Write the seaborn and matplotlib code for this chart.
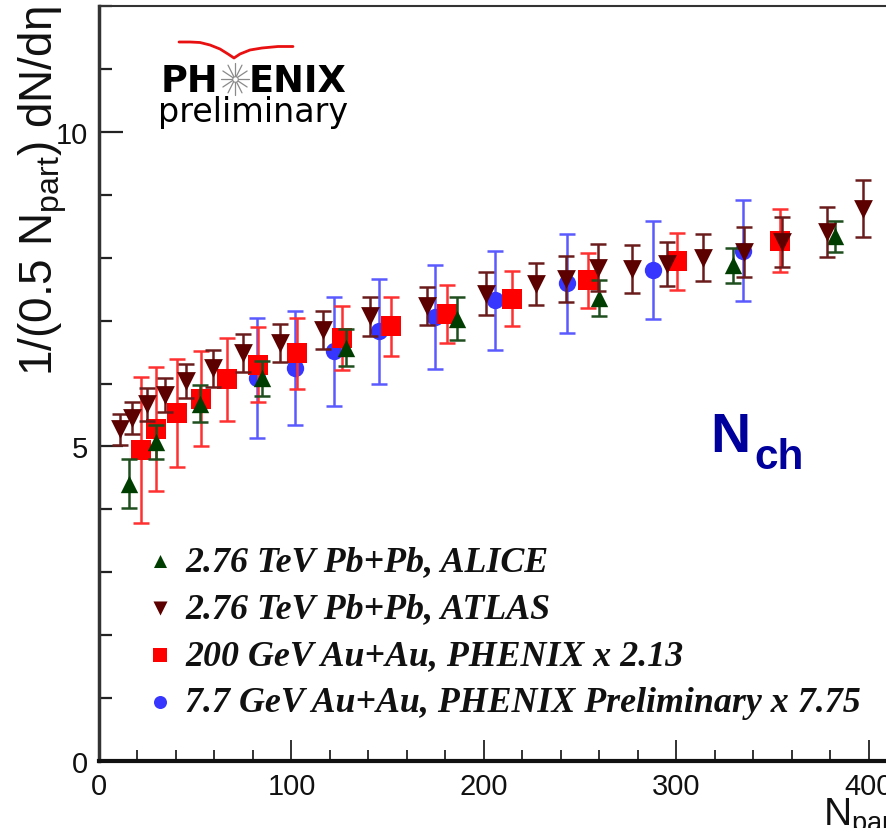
import numpy as np
import pandas as pd
import matplotlib
matplotlib.use("Agg")
import matplotlib.pyplot as plt
import seaborn as sns
from matplotlib import font_manager
from matplotlib.ticker import MultipleLocator, FixedLocator
from matplotlib.lines import Line2D

# ---------------- data ----------------
alice_x = [15.5, 29.6, 52.5, 84.5, 128.5, 186.0, 259.5, 329.5, 382.5]
alice_y = [4.41, 5.07, 5.68, 6.08, 6.57, 7.03, 7.36, 7.88, 8.34]
alice_e = [0.39, 0.27, 0.29, 0.28, 0.29, 0.34, 0.28, 0.28, 0.25]

atlas_x = [10.9, 17.1, 24.9, 34.3, 45.2, 59.2, 74.8, 94.0, 116.4, 140.8, 170.4,
           201.0, 227.0, 242.6, 259.0, 277.0, 295.0, 314.0, 335.0, 355.0, 378.0, 397.0]
atlas_y = [5.27, 5.45, 5.67, 5.82, 6.04, 6.24, 6.48, 6.64, 6.85, 7.07, 7.23,
           7.43, 7.58, 7.66, 7.84, 7.82, 7.90, 8.00, 8.09, 8.25, 8.41, 8.78]
atlas_e = [0.24, 0.25, 0.26, 0.27, 0.27, 0.29, 0.30, 0.30, 0.30, 0.31, 0.30,
           0.34, 0.34, 0.36, 0.37, 0.38, 0.35, 0.37, 0.40, 0.40, 0.40, 0.45]

phx200_x = [21.6, 29.4, 40.4, 53.0, 66.7, 82.8, 102.7, 126.0, 151.7, 181.0, 214.7, 254.2, 300.4, 354.0]
phx200_y = [4.95, 5.28, 5.53, 5.76, 6.07, 6.30, 6.48, 6.72, 6.91, 7.11, 7.35, 7.64, 7.94, 8.27]
phx200_e = [1.16, 0.99, 0.86, 0.76, 0.66, 0.60, 0.56, 0.51, 0.47, 0.46, 0.44, 0.44, 0.46, 0.50]

phx77_x = [82.0, 101.8, 122.2, 145.6, 174.5, 205.7, 243.0, 288.0, 334.4]
phx77_y = [6.09, 6.25, 6.51, 6.83, 7.06, 7.32, 7.59, 7.81, 8.11]
phx77_e = [0.95, 0.91, 0.87, 0.83, 0.83, 0.79, 0.78, 0.78, 0.80]

labels = ["2.76 TeV Pb+Pb, ALICE",
          "2.76 TeV Pb+Pb, ATLAS",
          "200 GeV Au+Au, PHENIX x 2.13",
          "7.7 GeV Au+Au, PHENIX Preliminary x 7.75"]

x_ticks = [0, 100, 200, 300, 400]
y_ticks = [0, 5, 10]

# ---------------- style ----------------
sns.set_theme(style="ticks")
names = {f.name for f in font_manager.fontManager.ttflist}
narrow = "Liberation Sans Narrow" in names
sans = "Liberation Sans Narrow" if narrow else "Liberation Sans"
tick_fs = 26 if narrow else 21
plt.rcParams["font.family"] = [sans, "DejaVu Sans"]
plt.rcParams["mathtext.fontset"] = "custom"
plt.rcParams["mathtext.rm"] = sans
plt.rcParams["mathtext.it"] = sans + ":italic"
plt.rcParams["mathtext.bf"] = sans + ":bold"

W, H = 887, 829
fig = plt.figure(figsize=(W / 100, H / 100), dpi=100)
fig.patch.set_facecolor("white")

# axes: left spine at px 100, bottom at 762, top at ~8; right edge beyond the image
x_px_per_unit = 1.925
ax_right_px = 905
xmax = (ax_right_px - 99) / x_px_per_unit
ax = fig.add_axes([99 / W, (H - 762) / H, (ax_right_px - 99) / W, (762 - 7) / H])
ax.set_xlim(0, xmax)
ax.set_ylim(0, 12)

def px(x, y):
    return (x / W, 1 - y / H)

series = [
    (phx77_x, phx77_y, phx77_e, "#3636ff", "#5a5aff", "o", 12.5, labels[3]),
    (phx200_x, phx200_y, phx200_e, "#ff0000", "#ff3030", "s", 14.0, labels[2]),
    (alice_x, alice_y, alice_e, "#003d00", "#1f4f1f", "^", 12.5, labels[0]),
    (atlas_x, atlas_y, atlas_e, "#5c0000", "#6a1c1c", "v", 13.5, labels[1]),
]

z = 3
for xs, ys, es, mc, ec, mk, ms, lab in series:
    ax.errorbar(xs, ys, yerr=es, fmt="none", ecolor=ec, elinewidth=1.8,
                capsize=5.5, capthick=1.8, zorder=z)
    df = pd.DataFrame({"x": xs, "y": ys})
    sns.scatterplot(data=df, x="x", y="y", marker=mk, color=mc, s=ms ** 2,
                    linewidth=0, ax=ax, label=lab, zorder=z + 0.5)
    z += 1

ax.set_xlabel("")
ax.set_ylabel("")

# ticks
ax.xaxis.set_major_locator(FixedLocator(x_ticks))
ax.xaxis.set_minor_locator(MultipleLocator(20))
ax.yaxis.set_major_locator(FixedLocator(y_ticks))
ax.yaxis.set_minor_locator(MultipleLocator(1))
ax.tick_params(axis="both", which="both", direction="in", top=False, right=False,
               colors="#222222")
ax.tick_params(axis="y", which="major", length=17, width=1.6, pad=8, labelsize=tick_fs)
ax.tick_params(axis="y", which="minor", length=9, width=1.6)
ax.tick_params(axis="x", which="major", length=15, width=1.3, pad=8, labelsize=tick_fs)
ax.tick_params(axis="x", which="minor", length=8, width=1.3)
for lab in ax.get_xticklabels() + ax.get_yticklabels():
    lab.set_color("#111111")

ax.spines["right"].set_visible(False)
ax.spines["left"].set_linewidth(2.5)
ax.spines["left"].set_color("#333333")
ax.spines["bottom"].set_linewidth(3.0)
ax.spines["bottom"].set_color("#111111")
ax.spines["top"].set_linewidth(1.5)
ax.spines["top"].set_color("#333333")

# legend
fs_leg = 25.8
handles, hlabels = ax.get_legend_handles_labels()
order = [labels.index(l) for l in hlabels]
hs = [h for _, h in sorted(zip(order, handles), key=lambda t: t[0])]
ls = [l for _, l in sorted(zip(order, hlabels), key=lambda t: t[0])]
leg = ax.legend(hs, ls, loc="upper left", bbox_to_anchor=px(146, 546),
                bbox_transform=fig.transFigure, frameon=False, borderpad=0,
                borderaxespad=0, handlelength=0.78, handletextpad=0.32,
                labelspacing=0.39, markerscale=0.75,
                prop={"family": "Liberation Serif", "weight": "bold",
                      "style": "italic", "size": fs_leg})
for t in leg.get_texts():
    t.set_color("#111111")

# axis titles
fig.text(43 / W, 1 - 6 / H, "1/(0.5 N$_{\\mathrm{part}}$) dN/dη", rotation=90,
         ha="center", va="top", fontsize=33, family="Liberation Sans",
         color="#111111")
fig.text(823 / W, 1 - 826 / H, "N$_{\\mathrm{part}}$", ha="left", va="baseline",
         fontsize=(33 if narrow else 28), color="#111111")

# N_ch annotation
nfs = 46 if narrow else 40
fig.text(710 / W, 1 - 452 / H, "N", ha="left", va="baseline", fontsize=nfs,
         fontweight="bold", color="#00009c")
fig.text(754 / W, 1 - 469 / H, "ch", ha="left", va="baseline",
         fontsize=nfs * 0.76, fontweight="bold", color="#00009c")

# PHENIX preliminary logo
fig.text(*px(161, 92), "PH", ha="left", va="baseline", fontsize=26.5,
         fontweight="bold", family="DejaVu Sans", color="black")
fig.text(*px(249, 92), "ENIX", ha="left", va="baseline", fontsize=26.5,
         fontweight="bold", family="DejaVu Sans", color="black")
fig.text(*px(158, 122), "preliminary", ha="left", va="baseline", fontsize=24,
         family="DejaVu Sans", color="black")
cx, cy = 235, 80
for ang in np.linspace(0, np.pi, 7)[:-1]:
    dx, dy = np.cos(ang) * 14, np.sin(ang) * 16
    fig.add_artist(Line2D([(cx - dx) / W, (cx + dx) / W],
                          [1 - (cy - dy) / H, 1 - (cy + dy) / H],
                          color="#8a8a8a", lw=0.9))
fig.add_artist(Line2D([cx / W], [1 - cy / H], marker="o", ms=4,
                      mfc="white", mec="#8a8a8a", mew=0.8))
arc_x = [179, 190, 200, 210, 220, 228, 234, 240, 250, 262, 278, 293]
arc_y = [43, 43, 43.5, 46, 50, 55, 59, 55, 51, 49, 47.5, 47.5]
fig.add_artist(Line2D([a / W for a in arc_x], [1 - b / H for b in arc_y],
                      color="#e81010", lw=2.0, solid_capstyle="round"))

fig.savefig("out.png", dpi=100, facecolor="white")
